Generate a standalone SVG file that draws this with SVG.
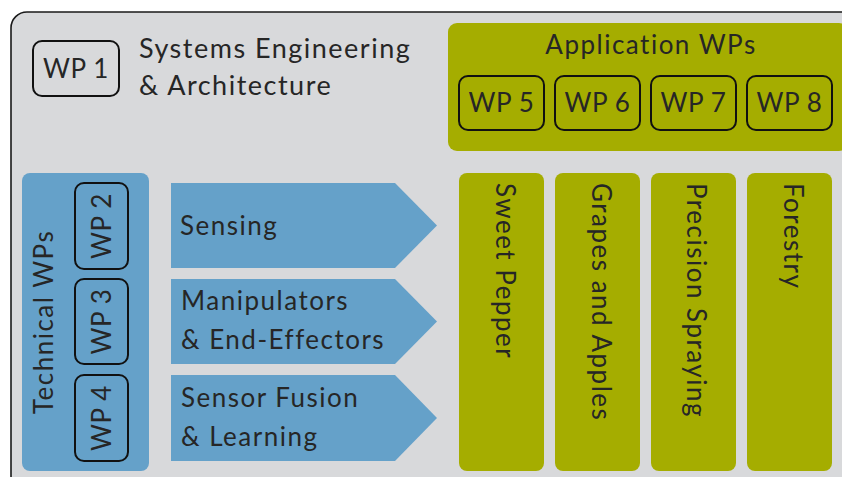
<svg xmlns="http://www.w3.org/2000/svg" width="842" height="477" viewBox="0 0 842 477">
  <style>
    .t { font-family: Lato, "Liberation Sans", sans-serif; font-size: 26px; letter-spacing: 1.5px; fill: #262626; }
    .big { font-size: 27px; }
    .lbl { letter-spacing: 0.6px; }
    .wp { fill: none; stroke: #111; stroke-width: 2; }
    .blue { fill: #65a1c9; }
    .green { fill: #a5ad00; }
  </style>
  <rect width="842" height="477" fill="#ffffff"/>
  <!-- outer frame -->
  <rect id="frame" x="11" y="12" width="850" height="480" rx="16" fill="#d8d9db" stroke="#1a1a1a" stroke-width="1.6"/>

  <g id="wp1">
    <rect class="wp" x="33" y="41" width="86" height="55" rx="9"/>
    <text class="t lbl" x="76" y="78" text-anchor="middle">WP 1</text>
    <text class="t big" x="139" y="58">Systems Engineering</text>
    <text class="t big" x="139" y="95">&amp; Architecture</text>
  </g>

  <g id="application">
    <rect class="green" x="448" y="23" width="400" height="128" rx="9"/>
    <text class="t" x="651" y="54" text-anchor="middle">Application WPs</text>
    <g id="wp5"><rect class="wp" x="459" y="76" width="85" height="54" rx="9"/><text class="t lbl" x="501.5" y="112" text-anchor="middle">WP 5</text></g>
    <g id="wp6"><rect class="wp" x="555" y="76" width="85" height="54" rx="9"/><text class="t lbl" x="597.5" y="112" text-anchor="middle">WP 6</text></g>
    <g id="wp7"><rect class="wp" x="651" y="76" width="85" height="54" rx="9"/><text class="t lbl" x="693.5" y="112" text-anchor="middle">WP 7</text></g>
    <g id="wp8"><rect class="wp" x="747" y="76" width="85" height="54" rx="9"/><text class="t lbl" x="789.5" y="112" text-anchor="middle">WP 8</text></g>
  </g>

  <g id="technical">
    <rect class="blue" x="22" y="173" width="127" height="298" rx="8"/>
    <text class="t" transform="translate(53,322) rotate(-90)" text-anchor="middle">Technical WPs</text>
    <g id="wp2"><rect class="wp" x="75" y="183" width="53" height="86" rx="9"/><text class="t lbl" transform="translate(111,226) rotate(-90)" text-anchor="middle">WP 2</text></g>
    <g id="wp3"><rect class="wp" x="75" y="279" width="53" height="85" rx="9"/><text class="t lbl" transform="translate(111,321.5) rotate(-90)" text-anchor="middle">WP 3</text></g>
    <g id="wp4"><rect class="wp" x="75" y="375" width="53" height="86" rx="9"/><text class="t lbl" transform="translate(111,418) rotate(-90)" text-anchor="middle">WP 4</text></g>
  </g>

  <g id="sensing">
    <polygon class="blue" points="171,183 395,183 437,225.5 395,268 171,268"/>
    <text class="t" x="180" y="235">Sensing</text>
  </g>
  <g id="manipulators">
    <polygon class="blue" points="171,279 395,279 437,321.5 395,364 171,364"/>
    <text class="t" x="181" y="310">Manipulators</text>
    <text class="t" x="181" y="349">&amp; End-Effectors</text>
  </g>
  <g id="fusion">
    <polygon class="blue" points="171,375 395,375 437,418 395,461 171,461"/>
    <text class="t" x="181" y="407">Sensor Fusion</text>
    <text class="t" x="181" y="446">&amp; Learning</text>
  </g>

  <g id="sweet-pepper">
    <rect class="green" x="459" y="173" width="85" height="298" rx="8"/>
    <text class="t" transform="translate(496,183) rotate(90)">Sweet Pepper</text>
  </g>
  <g id="grapes-apples">
    <rect class="green" x="555" y="173" width="85" height="298" rx="8"/>
    <text class="t" transform="translate(592,183) rotate(90)">Grapes and Apples</text>
  </g>
  <g id="precision-spraying">
    <rect class="green" x="651" y="173" width="85" height="298" rx="8"/>
    <text class="t" transform="translate(687,183) rotate(90)">Precision Spraying</text>
  </g>
  <g id="forestry">
    <rect class="green" x="747" y="173" width="85" height="298" rx="8"/>
    <text class="t" transform="translate(784,183) rotate(90)">Forestry</text>
  </g>
</svg>
